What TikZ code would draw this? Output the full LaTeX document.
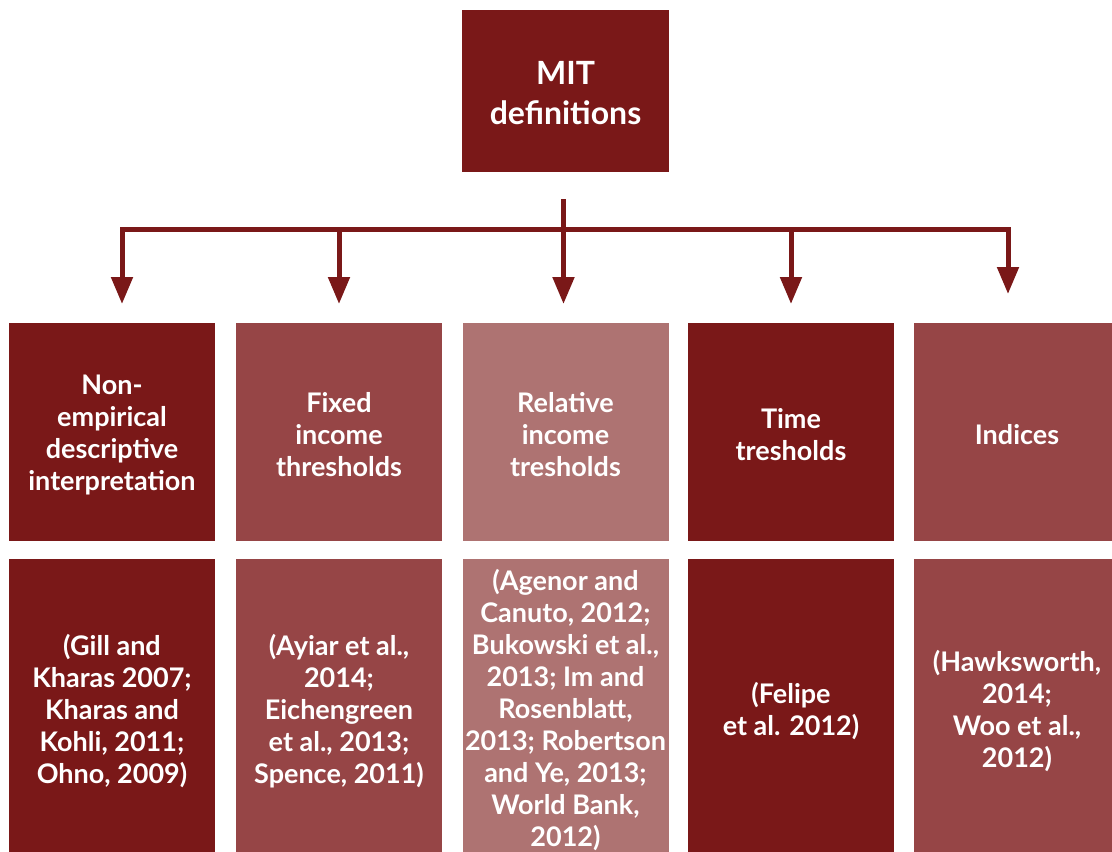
\documentclass[tikz,border=0pt]{standalone}
\usepackage{fontspec}
\setmainfont{Lato}[UprightFont=* Bold]
\newcommand{\tlig}[1]{{\addfontfeature{Ligatures=Rare}#1}}
\usetikzlibrary{arrows.meta}
\definecolor{cdark}{HTML}{7A1818}
\definecolor{cmed}{HTML}{964546}
\definecolor{clight}{HTML}{AE7372}
\tikzset{
  box/.style={rectangle, inner sep=0pt, minimum width=206pt},
  txt/.style={inner sep=0pt, text=white, align=center, font=\fontsize{27}{32}\selectfont},
  midbox/.style={box, minimum height=218pt},
  botbox/.style={box, minimum height=298pt},
  conn/.style={draw=cdark, line width=5pt},
  tip/.style={-{Triangle[width=21pt,length=27pt]}},
}
\begin{document}
\begin{tikzpicture}[x=1pt,y=-1pt]
\useasboundingbox (0,0) rectangle (1112,852);
\node[box, fill=cdark, minimum width=207pt, minimum height=162pt] (top) at (565.5,91) {};
\node[txt, font=\fontsize{32}{40}\selectfont] (topt) at ([yshift=-2pt]top.center) {MIT\\\tlig{definitions}};
% middle row
\node[midbox, fill=cdark]  (m1) at (112,431.5) {};
\node[midbox, fill=cmed]   (m2) at (339,431.5) {};
\node[midbox, fill=clight] (m3) at (565.5,431.5) {};
\node[midbox, fill=cdark]  (m4) at (791,431.5) {};
\node[midbox, fill=cmed]   (m5) at (1017,431.5) {};
\node[txt] (m1t) at ([yshift=-3pt]m1.center) {Non-\\empirical\\\tlig{descriptive}\\\tlig{interpretation}};
\node[txt] (m2t) at ([yshift=-3pt]m2.center) {Fixed\\income\\thresholds};
\node[txt] (m3t) at ([yshift=-3pt]m3.center) {\tlig{Relative}\\income\\tresholds};
\node[txt] (m4t) at ([yshift=-3pt]m4.center) {Time\\tresholds};
\node[txt] (m5t) at ([yshift=-3pt]m5.center) {Indices};
% bottom row
\node[botbox, fill=cdark]  (b1) at (112,708) {};
\node[botbox, fill=cmed]   (b2) at (339,708) {};
\node[botbox, fill=clight] (b3) at (565.5,708) {};
\node[botbox, fill=cdark]  (b4) at (791,708) {};
\node[botbox, fill=cmed]   (b5) at (1017,708) {};
\node[txt] (b1t) at ([yshift=-3pt]b1.center) {(Gill and\\Kharas 2007;\\Kharas and\\Kohli, 2011;\\Ohno, 2009)};
\node[txt] (b2t) at ([yshift=-3pt]b2.center) {(Ayiar et al.,\\2014;\\Eichengreen\\et al., 2013;\\Spence, 2011)};
\node[txt] (b3t) at ([yshift=-2pt]b3.center) {(Agenor and\\Canuto, 2012;\\Bukowski et al.,\\2013; Im and\\Rosenblatt,\\2013; Robertson\\and Ye, 2013;\\World Bank,\\2012)};
\node[txt] (b4t) at ([yshift=-3pt]b4.center) {(Felipe\\et al. 2012)};
\node[txt] (b5t) at ([yshift=-3pt]b5.center) {(Hawksworth,\\2014;\\Woo et al.,\\2012)};
% connectors
\coordinate (s0) at (563.5,199);
\coordinate (c0) at (563.5,229);
\coordinate (c1) at (122,229);
\coordinate (c2) at (339,229);
\coordinate (c4) at (791,229);
\coordinate (c5) at (1008,229);
\coordinate (t0) at (563.5,304);
\coordinate (t1) at (122,304);
\coordinate (t2) at (339,304);
\coordinate (t4) at (791,304);
\coordinate (t5) at (1008,294);
\draw[conn, {Triangle[width=21pt,length=27pt]}-{Triangle[width=21pt,length=27pt]}] (t1) -- (c1) -- (c5) -- (t5);
\draw[conn, tip] (s0) -- (t0);
\draw[conn, tip] (c2) -- (t2);
\draw[conn, tip] (c4) -- (t4);
\end{tikzpicture}
\end{document}
